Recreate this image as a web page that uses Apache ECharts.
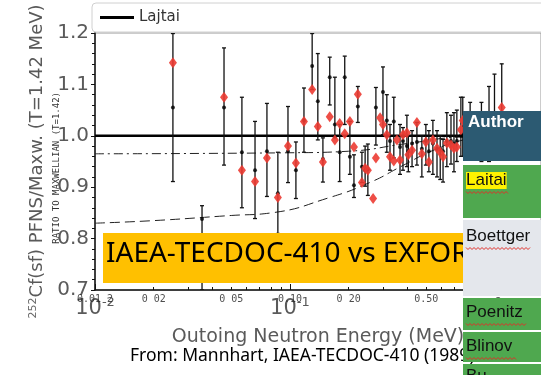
<!DOCTYPE html>
<html>
<head>
<meta charset="utf-8">
<script src="https://cdn.jsdelivr.net/npm/echarts@6/dist/echarts.min.js"></script>
<style>
  html, body { margin: 0; padding: 0; background: #fff; }
  #chart { width: 541px; height: 375px; }
</style>
</head>
<body>
<div id="chart"></div>
<script>
// outgoing neutron energy (MeV) of each measured point
const energy = [0.0251, 0.0354, 0.0459, 0.0567, 0.0662, 0.0762, 0.0867, 0.0977, 0.1073, 0.118,
  0.130, 0.139, 0.1476, 0.160, 0.170, 0.180, 0.191, 0.203, 0.213, 0.223,
  0.234, 0.243, 0.251, 0.267, 0.276, 0.290, 0.300, 0.314, 0.326, 0.341,
  0.354, 0.367, 0.380, 0.398, 0.405, 0.423, 0.448, 0.475, 0.498, 0.516,
  0.541, 0.568, 0.590, 0.610, 0.638, 0.670, 0.694, 0.718, 0.753, 0.770,
  0.840, 0.960, 1.050, 1.120, 1.220];
// scanned (black) ratio and its error bar
const ratioBlack = [1.055, 0.838, 1.055, 0.968, 0.933, 0.970, 0.888, 0.970, 0.933, 1.030,
  1.136, 1.067, 0.955, 1.114, 1.022, 0.968, 1.114, 0.959, 0.904, 1.057,
  0.940, 0.933, 0.935, null, 1.055, null, 1.085, 1.030, 0.990, 1.028,
  null, 0.978, 0.990, 0.980, 0.970, 0.985, 0.988, 0.975, 0.990, 0.970,
  0.985, 0.975, 0.975, 0.970, 0.990, 0.990, 0.985, 0.990, 1.000, 1.000,
  1.010, 1.000, 1.010, 1.020, 1.020];
const barLow = [0.911, 0.700, 0.943, 0.860, 0.839, 0.882, 0.810, 0.909, 0.878, 0.968,
  1.090, 0.992, 0.910, 1.060, 0.996, 0.911, 1.022, 0.925, 0.880, 1.026,
  0.909, 0.902, 0.884, null, 0.982, null, 1.002, 0.968, 0.933, 0.957,
  null, 0.925, 0.933, 0.940, 0.930, 0.940, 0.943, 0.920, 0.943, 0.930,
  0.925, 0.920, 0.915, 0.910, 0.940, 0.945, 0.930, 0.950, 0.960, 0.960,
  0.960, 0.950, 0.950, 0.960, 0.960];
const barHigh = [1.199, 0.864, 1.171, 1.075, 1.028, 1.063, 0.968, 1.057, 0.988, 1.093,
  1.199, 1.160, 0.996, 1.153, 1.114, 1.022, 1.155, 1.028, 0.963, 1.096,
  0.968, 0.980, 0.984, null, 1.094, null, 1.134, 1.080, 1.022, 1.075,
  null, 1.022, 1.016, 1.040, 1.000, 1.010, 1.026, 1.000, 1.022, 1.010,
  1.030, 1.010, 1.000, 0.993, 1.045, 1.040, 1.045, 1.050, 1.075, 1.075,
  1.065, 1.065, 1.096, 1.120, 1.140];
// EXFOR (red) ratio
const ratioRed = [1.142, null, 1.075, 0.933, 0.911, 0.957, 0.880, 0.980, 0.947, 1.028,
  1.090, 1.018, 0.949, 1.037, 0.992, 1.024, 1.004, 1.028, 0.978, 1.081,
  0.909, 0.937, 0.933, 0.878, 0.957, 1.035, 1.022, 1.002, 0.959, 0.951,
  0.992, 0.953, 1.002, 1.006, 0.963, 0.972, 1.026, 0.965, 0.988, 0.949,
  0.992, 0.976, 0.968, 0.959, 0.986, 0.982, 0.976, 0.978, 1.012, 1.030,
  1.000, null, null, null, 1.055];

// Lajtai reference and the two dashed curves of the scan
const lajtaiE = [0.01, 1.94];
const lajtaiR = [1.0, 1.0];
const dashDotE = [0.01, 0.1, 0.2, 0.4, 0.8, 1.94];
const dashDotR = [0.965, 0.967, 0.970, 0.985, 0.998, 1.0];
const dashE = [0.01, 0.02, 0.05, 0.08, 0.16, 0.26, 0.37, 0.53, 0.74, 1.0];
const dashR = [0.830, 0.835, 0.845, 0.850, 0.880, 0.910, 0.940, 0.970, 0.990, 1.0];

// small tick labels of the scanned figure
const scanTickE = [0.01, 0.02, 0.05, 0.1, 0.2, 0.5];
const scanTickText = ['0.01 2', '0 02', '0 05', '0.10', '0 20', '0.50'];

const authors = ['Laitai', 'Boettger', 'Poenitz', 'Blinov', 'Bu'];

const pairs = (xs, ys) => xs.map((x, i) => [x, ys[i]]);
const bars = [];
const blackPts = [];
const redPts = [];
energy.forEach((e, i) => {
  if (barLow[i] != null) bars.push([e, barLow[i], barHigh[i]]);
  if (ratioBlack[i] != null) blackPts.push([e, ratioBlack[i]]);
  if (ratioRed[i] != null) redPts.push([e, ratioRed[i]]);
});

function renderErrorBar(params, api) {
  const x = api.value(0);
  const top = api.coord([x, api.value(2)]);
  const bot = api.coord([x, api.value(1)]);
  const w = 2;
  const style = { stroke: '#111', lineWidth: 1.3 };
  return {
    type: 'group',
    children: [
      { type: 'line', shape: { x1: top[0], y1: top[1], x2: bot[0], y2: bot[1] }, style },
      { type: 'line', shape: { x1: top[0] - w, y1: top[1], x2: top[0] + w, y2: top[1] }, style },
      { type: 'line', shape: { x1: bot[0] - w, y1: bot[1], x2: bot[0] + w, y2: bot[1] }, style }
    ]
  };
}

// red spell-check squiggle under a word
function squiggle(x0, x1, y) {
  const pts = [];
  for (let x = x0, k = 0; x <= x1; x += 2, k++) pts.push([x, y + (k % 2 ? 1.5 : -0.5)]);
  return { type: 'polyline', z: 102, shape: { points: pts }, style: { stroke: '#e0302a', lineWidth: 1, fill: null } };
}

const supText = { 0.01: '-2', 0.1: '-1', 1: '0' };

const chart = echarts.init(document.getElementById('chart'));

// table on the right, drawn on top of the plot
const rows = [
  { y: 111, h: 50, fill: '#2c5a72' },
  { y: 165, h: 53, fill: '#4fa84f' },
  { y: 220, h: 76, fill: '#e4e7ec' },
  { y: 298, h: 32, fill: '#4fa84f' },
  { y: 332, h: 30, fill: '#4fa84f' },
  { y: 364, h: 20, fill: '#4fa84f' }
];
const tableGraphics = rows.map(r => ({
  type: 'rect', z: 100, shape: { x: 463, y: r.y, width: 80, height: r.h }, style: { fill: r.fill }
}));
tableGraphics.push({
  type: 'text', z: 101, left: 468, top: 114,
  style: { text: 'Author', fill: '#fff', font: 'bold 17px "Liberation Sans", Arial' }
});
const authorTop = [172, 228, 304, 338, 368];
const authorWidth = [42, 64, 60, 50];
authors.forEach((a, i) => {
  tableGraphics.push({
    type: 'text', z: 101, left: 466, top: authorTop[i],
    style: {
      text: a, fill: '#111', font: '17px "Liberation Sans", Arial',
      backgroundColor: i === 0 ? '#fff200' : 'transparent'
    }
  });
  if (i < authorWidth.length) tableGraphics.push(squiggle(466, 466 + authorWidth[i], authorTop[i] + 20));
});

chart.setOption({
  animation: false,
  grid: {
    left: 95, right: 0, top: 33, bottom: 85, outerBoundsMode: 'none',
    show: true, borderColor: '#999', borderWidth: 1
  },
  legend: {
    data: [{ name: 'Lajtai', icon: 'rect' }], left: 92, top: 3,
    padding: [7, 420, 7, 8], itemWidth: 34, itemHeight: 3, itemGap: 10,
    backgroundColor: '#fff', borderColor: '#d0d0d0', borderWidth: 1, borderRadius: 4,
    textStyle: { fontSize: 15, color: '#333', fontFamily: 'DejaVu Sans' }
  },
  xAxis: {
    type: 'log', logBase: 10, min: 0.01, max: 1.94,
    name: 'Outoing Neutron Energy (MeV)', nameLocation: 'middle', nameGap: 38,
    nameTextStyle: { fontSize: 19, color: '#5a5a5a', fontFamily: 'DejaVu Sans' },
    axisLine: { lineStyle: { color: '#111', width: 1.5 } },
    axisTick: { inside: true, length: 6, lineStyle: { color: '#111' } },
    minorTick: { show: true, splitNumber: 9, length: 3, lineStyle: { color: '#111' } },
    splitLine: { show: false },
    axisLabel: {
      margin: 6,
      formatter: v => '{a|10}{b|' + (supText[Math.round(v * 100) / 100] || '') + '}',
      rich: {
        a: { fontSize: 21, color: '#5a5a5a', fontFamily: 'DejaVu Sans' },
        b: { fontSize: 13, color: '#5a5a5a', fontFamily: 'DejaVu Sans', padding: [0, 0, 12, 0] }
      }
    }
  },
  yAxis: {
    type: 'value', min: 0.7, max: 1.2, interval: 0.1,
    name: '{s|252}Cf(sf) PFNS/Maxw. (T=1.42 MeV)', nameLocation: 'middle', nameGap: 48,
    nameTextStyle: {
      rich: {
        s: { fontSize: 11, color: '#6a6a6a', fontFamily: 'DejaVu Sans', padding: [0, 0, 8, 0] }
      },
      fontSize: 18, color: '#5a5a5a', fontFamily: 'DejaVu Sans'
    },
    axisLine: { show: true, lineStyle: { color: '#111', width: 1.5 } },
    axisTick: { show: true, length: 4, lineStyle: { color: '#111' } },
    minorTick: { show: true, splitNumber: 5, length: 3, lineStyle: { color: '#111' } },
    splitLine: { show: false },
    axisLabel: {
      margin: 6, fontSize: 20, color: '#5a5a5a', fontFamily: 'DejaVu Sans',
      formatter: v => v.toFixed(1)
    }
  },
  graphic: [
    {
      type: 'text', z: 50, left: 52, top: 92, rotation: Math.PI / 2,
      style: { text: 'RATIO TO MAXWELLIAN (T=1.42)', fill: '#333', font: '9px "DejaVu Sans Mono"' }
    },
    {
      type: 'rect', z: 90, shape: { x: 103, y: 233, width: 360, height: 50 }, style: { fill: '#ffc000' }
    },
    {
      type: 'text', z: 91, left: 106, top: 240,
      style: { text: 'IAEA-TECDOC-410 vs EXFOR', fill: '#000', font: '28px "Noto Sans"' }
    },
    {
      type: 'text', z: 50, left: 130, top: 347,
      style: { text: 'From: Mannhart, IAEA-TECDOC-410 (1989)', fill: '#000', font: '17.5px "Noto Sans"' }
    }
  ].concat(tableGraphics),
  series: [
    {
      name: 'Lajtai', type: 'line', data: pairs(lajtaiE, lajtaiR), symbol: 'none',
      lineStyle: { color: '#000', width: 2.5 }, itemStyle: { color: '#000' }, z: 3
    },
    {
      name: 'dashdot', type: 'line', data: pairs(dashDotE, dashDotR), symbol: 'none', smooth: true,
      lineStyle: { color: '#222', width: 1, type: [9, 4, 2, 4] }, z: 2
    },
    {
      name: 'dash', type: 'line', data: pairs(dashE, dashR), symbol: 'none', smooth: true,
      lineStyle: { color: '#222', width: 1, type: [10, 5] }, z: 2
    },
    {
      name: 'bars', type: 'custom', data: bars, renderItem: renderErrorBar, clip: true, z: 4,
      encode: { x: 0, y: [1, 2] }
    },
    {
      name: 'scan', type: 'scatter', data: blackPts, symbol: 'circle', symbolSize: 4,
      itemStyle: { color: '#000' }, z: 5
    },
    {
      name: 'EXFOR', type: 'scatter', data: redPts, symbol: 'diamond', symbolSize: [8, 11],
      itemStyle: { color: '#ec3b32', opacity: 0.9 }, z: 6
    },
    {
      name: 'scanTicks', type: 'scatter', data: pairs(scanTickE, scanTickE.map(() => 0.7)),
      symbolSize: 0, clip: false, silent: true, z: 7,
      label: {
        show: true, position: 'bottom', distance: 4,
        formatter: p => scanTickText[p.dataIndex],
        fontSize: 10, color: '#222', fontFamily: 'DejaVu Sans Mono'
      }
    }
  ]
});
</script>
</body>
</html>
